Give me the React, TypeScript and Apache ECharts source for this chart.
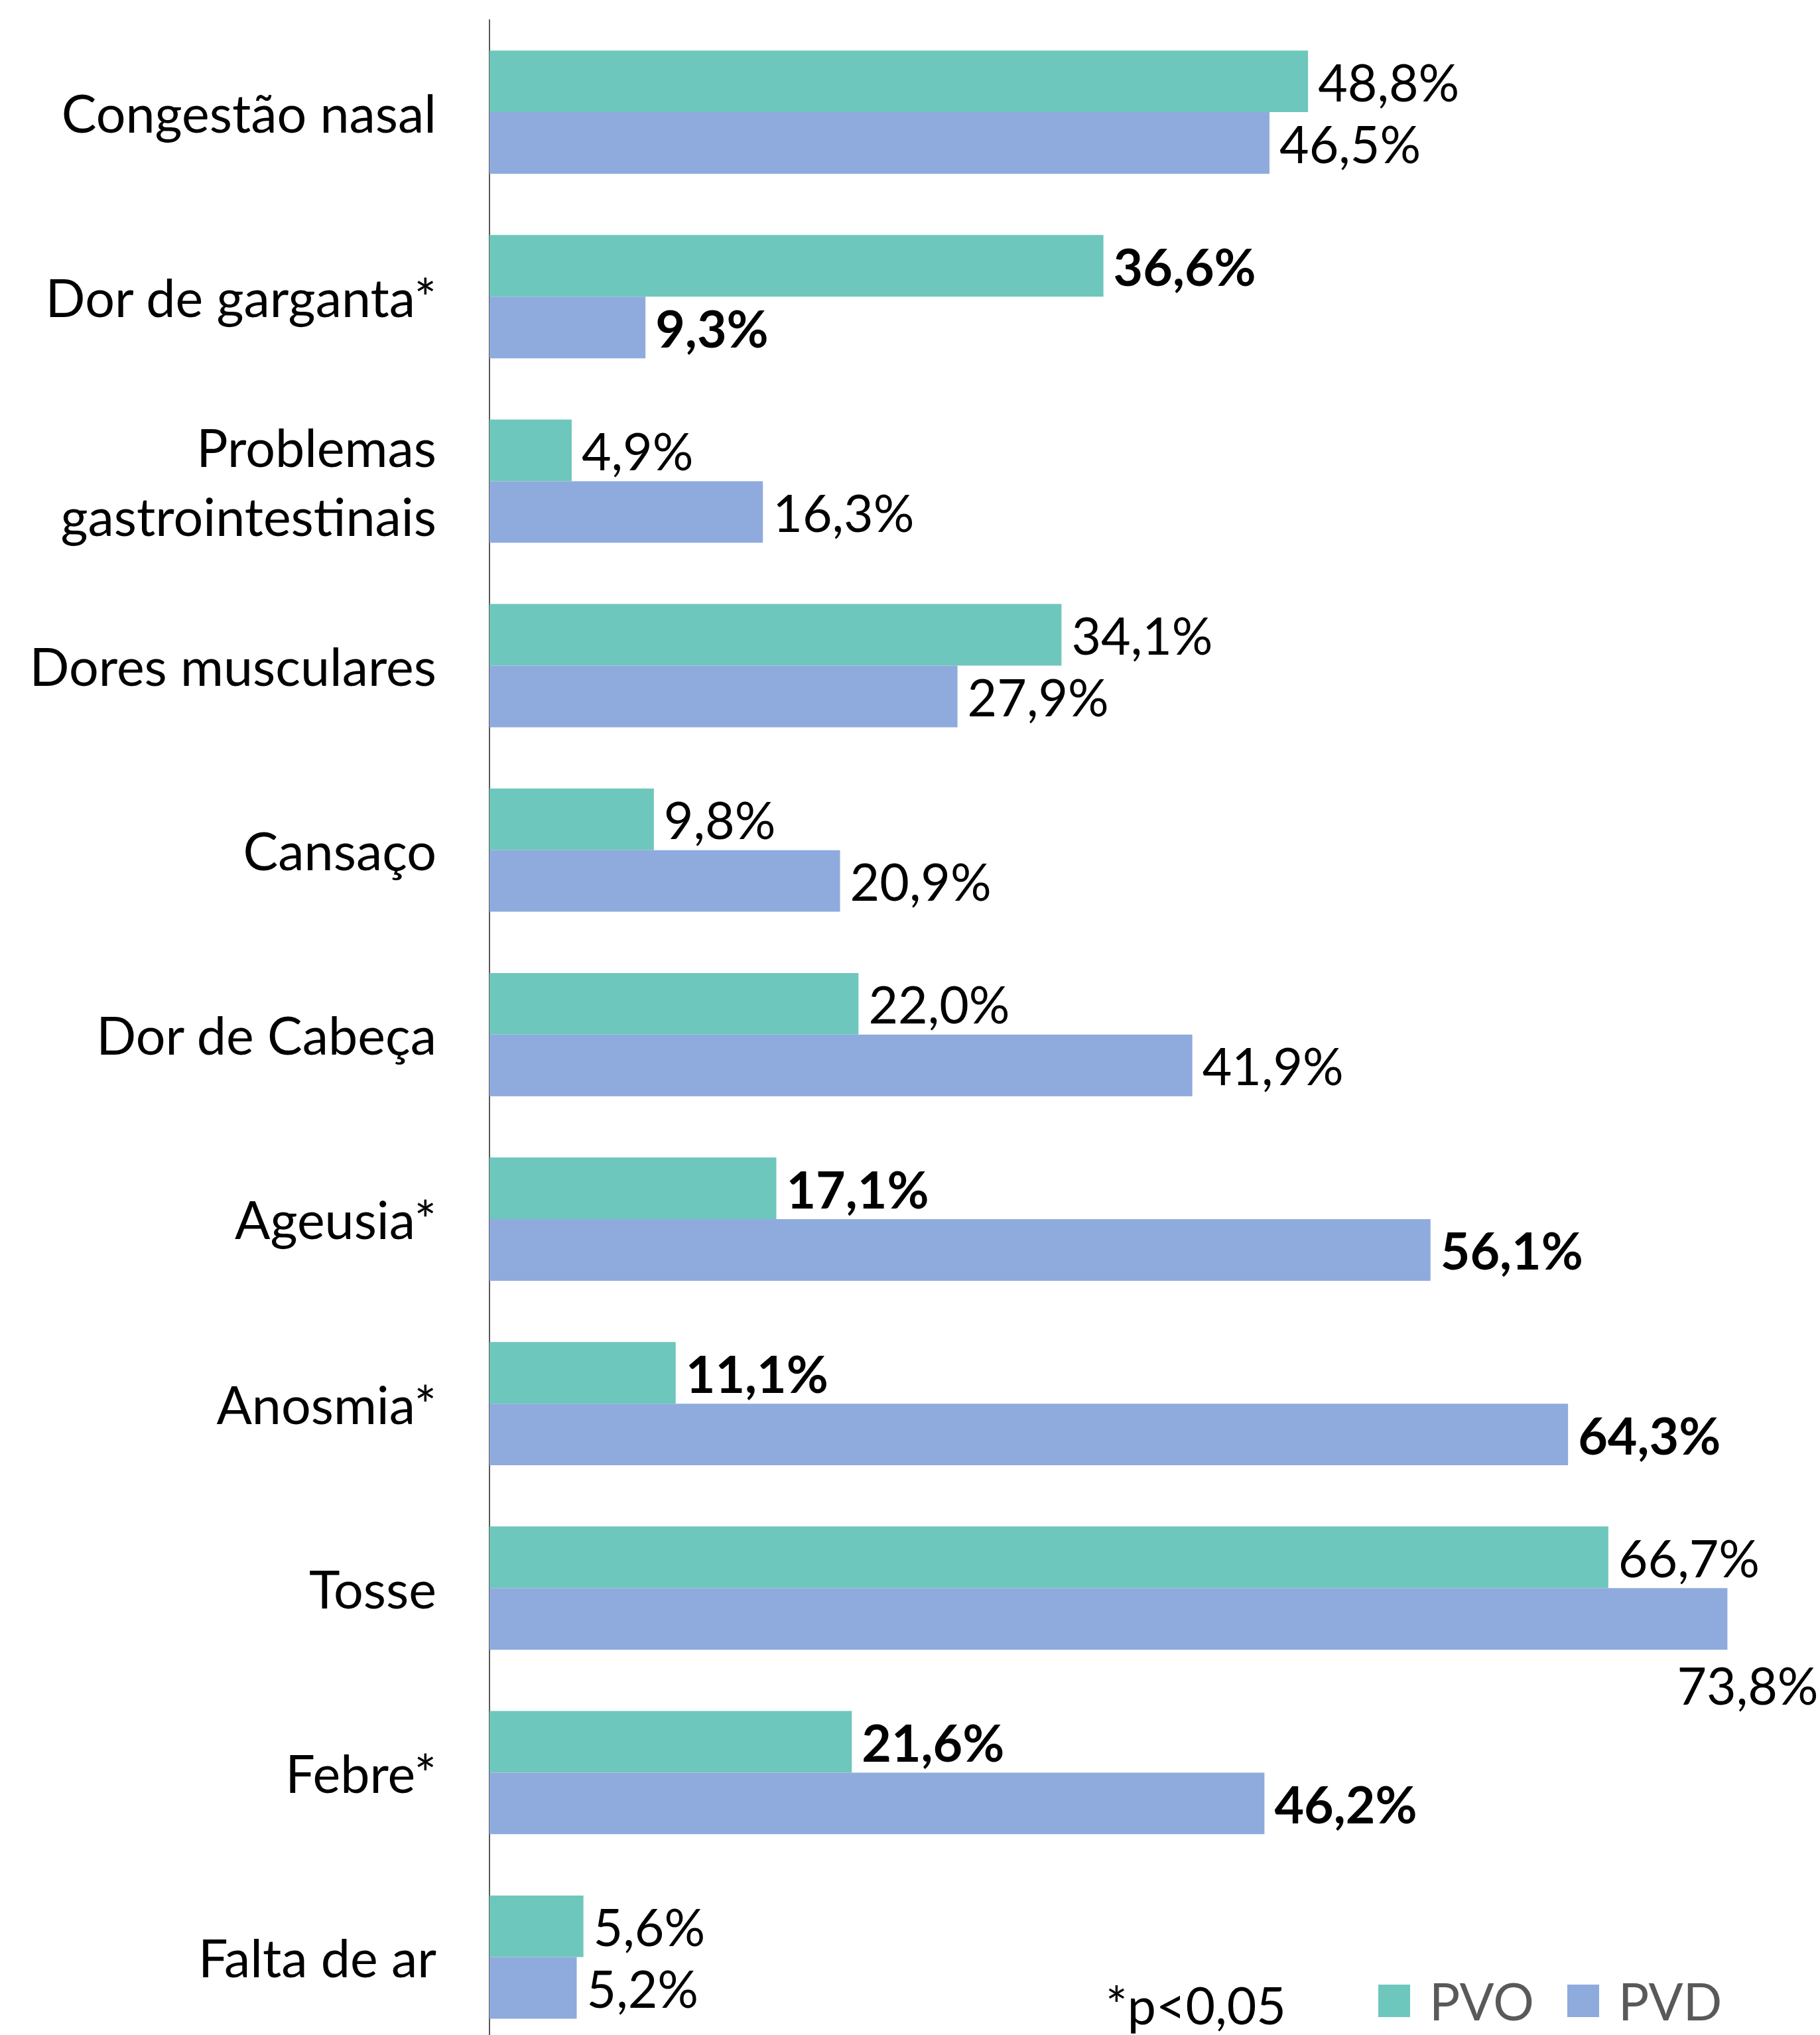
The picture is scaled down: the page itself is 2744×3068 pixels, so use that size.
import React, { useEffect, useRef } from "react";
import * as echarts from "echarts";

const categories = [
  "Congestão nasal",
  "Dor de garganta*",
  "Problemas\ngastrointestinais",
  "Dores musculares",
  "Cansaço",
  "Dor de Cabeça",
  "Ageusia*",
  "Anosmia*",
  "Tosse",
  "Febre*",
  "Falta de ar",
];
const pvo = [48.8, 36.6, 4.9, 34.1, 9.8, 22.0, 17.1, 11.1, 66.7, 21.6, 5.6];
const pvd = [46.5, 9.3, 16.3, 27.9, 20.9, 41.9, 56.1, 64.3, 73.8, 46.2, 5.2];
const significant = [false, true, false, false, false, false, true, true, false, true, false];
const seriesNames = ["PVO", "PVD"];
const seriesColors = ["#6EC7BC", "#8FABDD"];
const note = "*p<0,05";

const FONT = "Lato";
const FS = 77;
const CAT_FS = 79;
const PX_PER_PCT = 25.29;
const XMAX = 78;

export default function App() {
  const ref = useRef<HTMLDivElement>(null);
  useEffect(() => {
    if (!ref.current) return;
    const chart = echarts.init(ref.current, undefined, { renderer: "svg" });
    const fmt = (v: number) => v.toFixed(1).replace(".", ",") + "%";
    const makeData = (vals: number[], isPvd: boolean) =>
      vals.map((v, i) => {
        const item: any = { value: v };
        const lbl: any = {};
        if (significant[i]) lbl.fontWeight = "bold";
        if (isPvd && i === 8) {
          lbl.position = ["100%", "100%"];
          lbl.align = "left";
          lbl.verticalAlign = "top";
          lbl.offset = [-76, 14];
        }
        if (Object.keys(lbl).length) item.label = lbl;
        return item;
      });
    const baseLabel = {
      show: true,
      position: "right",
      distance: 15,
      color: "#000",
      fontFamily: FONT,
      fontSize: FS,
      formatter: (p: any) => fmt(p.value),
    };
    const legendX = [2078, 2363];
    const legendGraphics: any[] = [];
    seriesNames.forEach((n, i) => {
      legendGraphics.push({
        type: "rect",
        shape: { x: legendX[i], y: 2992, width: 48, height: 49 },
        style: { fill: seriesColors[i] },
      });
      legendGraphics.push({
        type: "text",
        x: legendX[i] + 77,
        y: 3016,
        style: {
          text: n,
          fill: "#595959",
          font: `${FS}px ${FONT}`,
          verticalAlign: "middle",
          align: "left",
        },
      });
    });
    chart.setOption({
      animation: false,
      textStyle: { fontFamily: FONT },
      grid: {
        left: 738,
        top: 30,
        width: PX_PER_PCT * XMAX,
        height: 278.15 * 11,
        containLabel: false,
        outerBoundsMode: "none",
      },
      xAxis: {
        type: "value",
        min: 0,
        max: XMAX,
        show: false,
      },
      yAxis: {
        type: "category",
        data: categories,
        inverse: true,
        axisTick: { show: false },
        axisLine: { show: true, lineStyle: { color: "#595959", width: 2 } },
        axisLabel: {
          color: "#000",
          fontFamily: FONT,
          fontSize: CAT_FS,
          lineHeight: 104,
          margin: 80,
          align: "right",
        },
        splitLine: { show: false },
      },
      graphic: [
        {
          type: "text",
          x: 1667,
          y: 3022,
          style: {
            text: note,
            fill: "#000",
            font: `${FS}px ${FONT}`,
            verticalAlign: "middle",
            align: "left",
          },
        },
        ...legendGraphics,
      ],
      series: [
        {
          name: seriesNames[0],
          type: "bar",
          data: makeData(pvo, false),
          barWidth: "33.4%",
          barGap: "0%",
          itemStyle: { color: seriesColors[0] },
          label: baseLabel,
        },
        {
          name: seriesNames[1],
          type: "bar",
          data: makeData(pvd, true),
          barWidth: "33.4%",
          barGap: "0%",
          itemStyle: { color: seriesColors[1] },
          label: baseLabel,
        },
      ],
    });
    return () => chart.dispose();
  }, []);
  return (
    <div
      ref={ref}
      style={{ position: "fixed", left: 0, top: 0, width: 2744, height: 3068, background: "#fff" }}
    />
  );
}
